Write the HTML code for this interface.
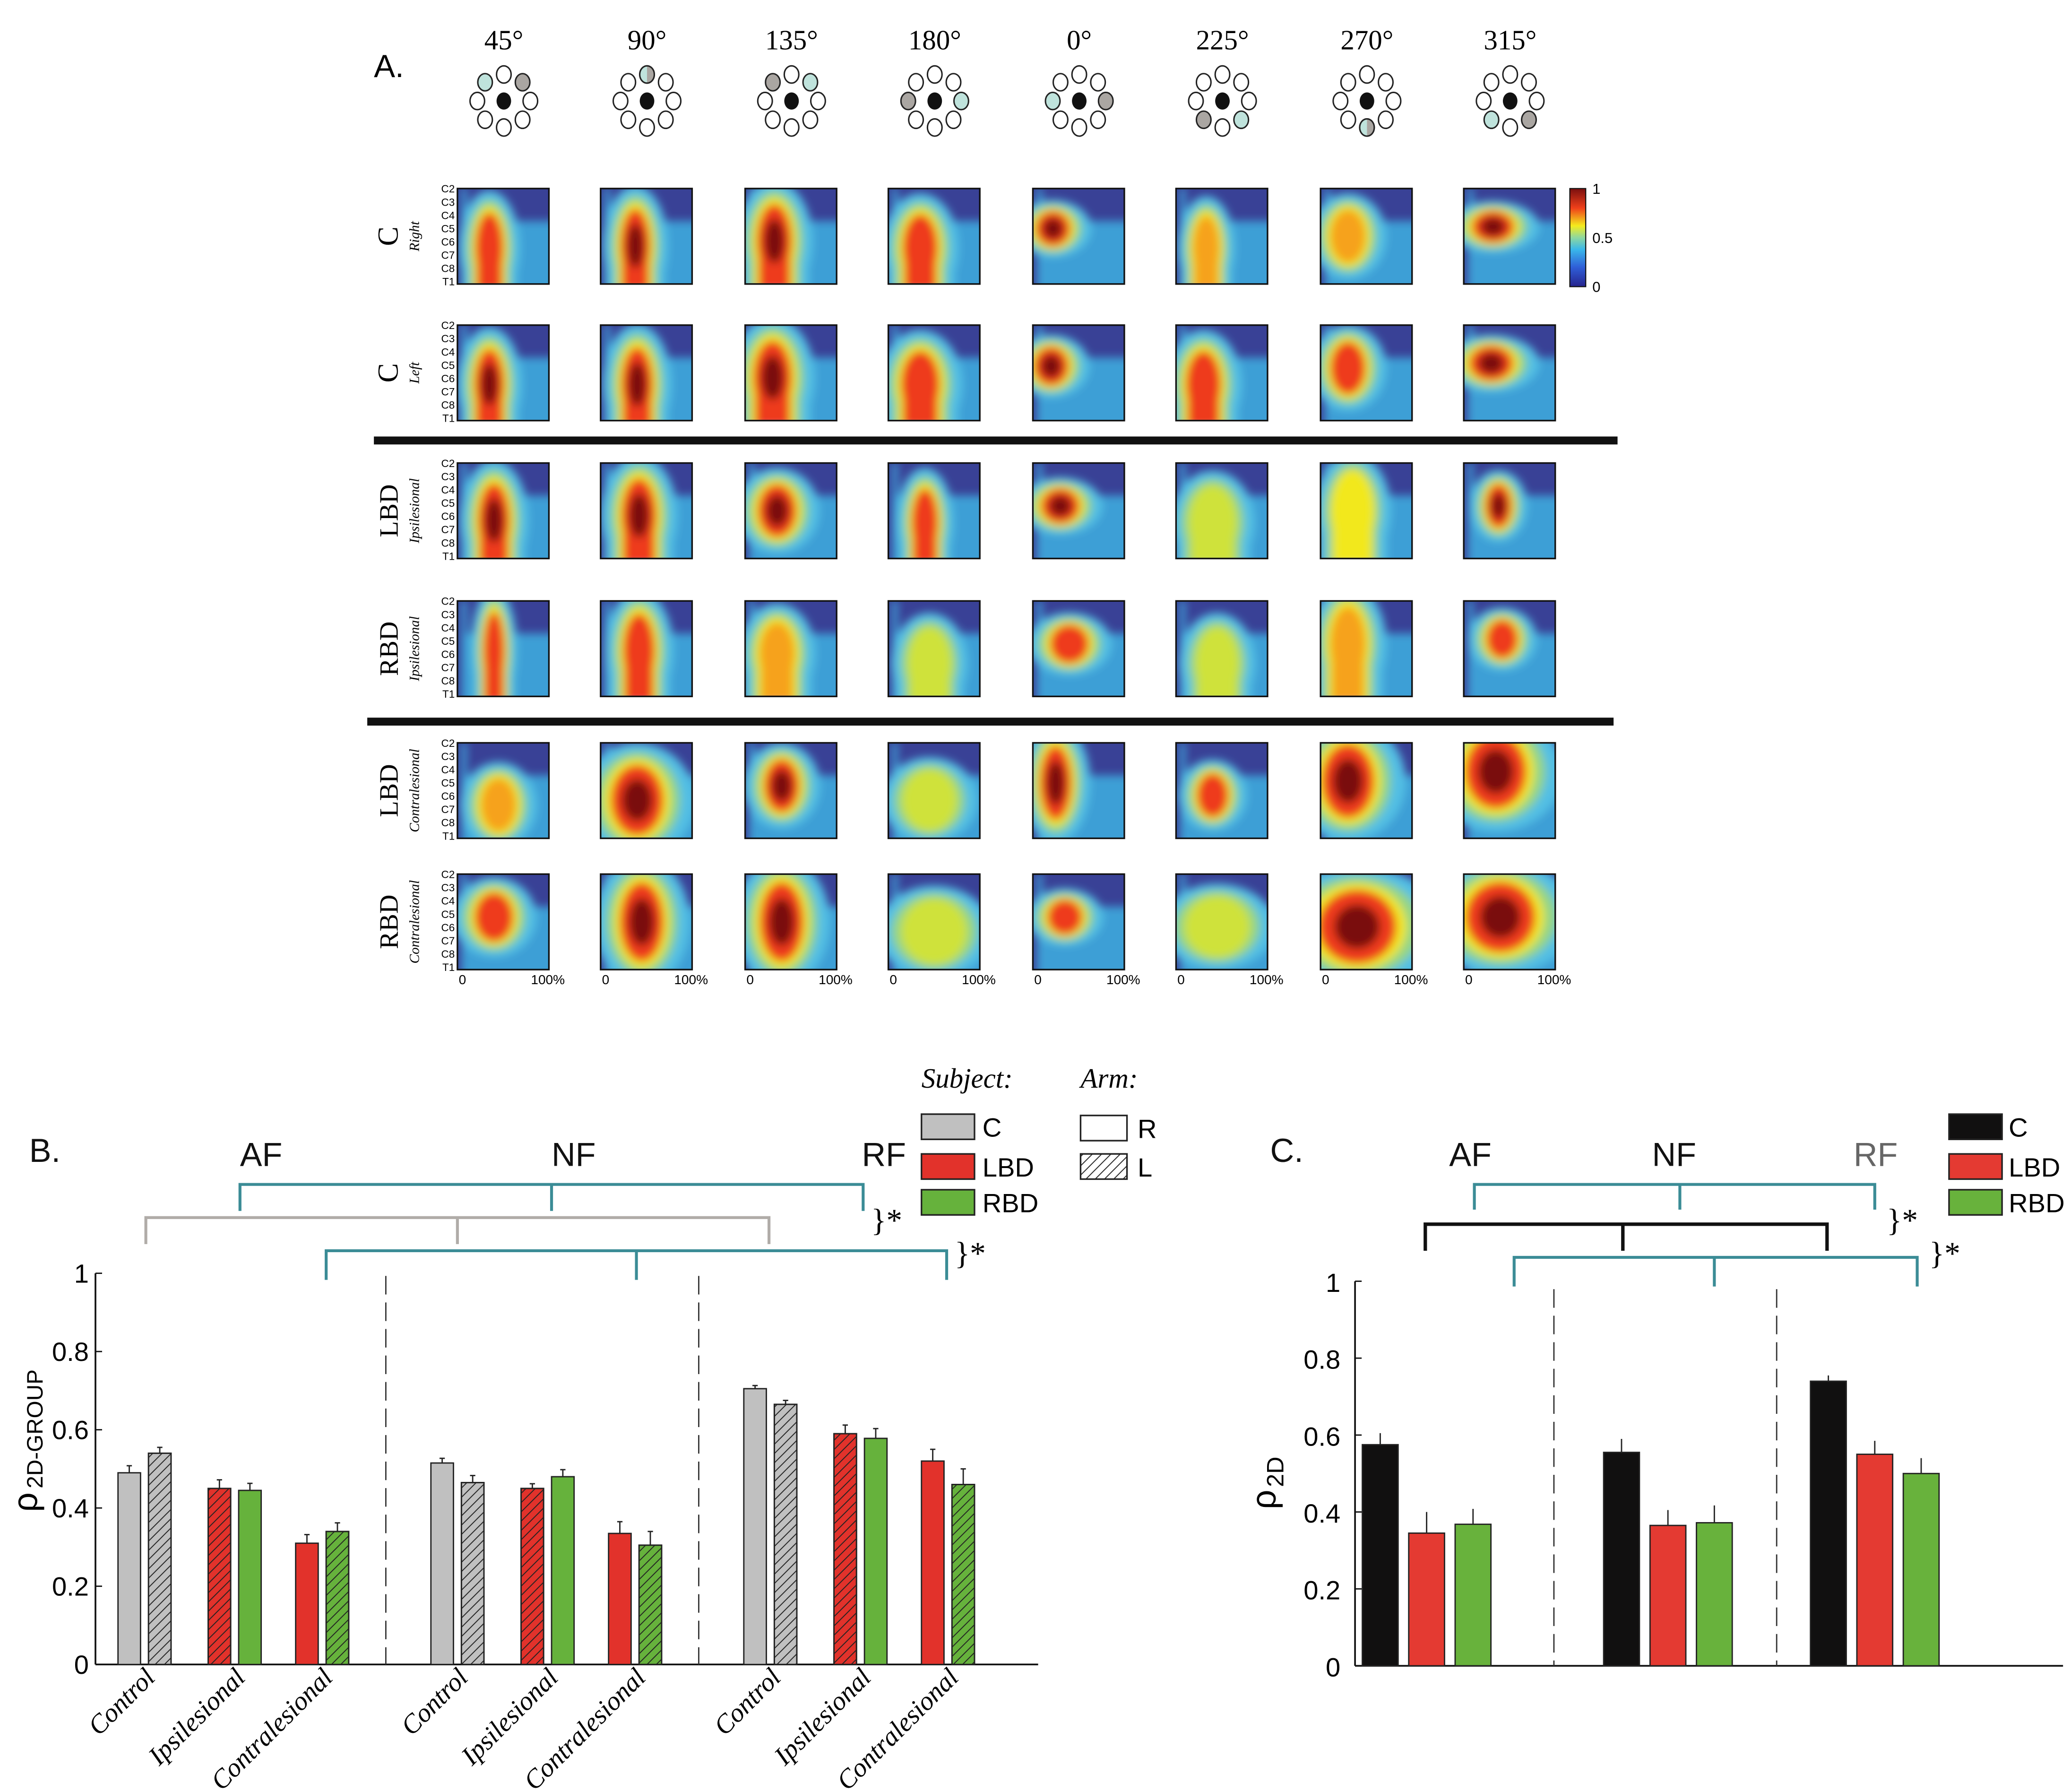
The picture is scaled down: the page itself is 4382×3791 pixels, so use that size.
<!DOCTYPE html>
<html><head><meta charset="utf-8"><style>
html,body{margin:0;padding:0;background:#fff;}
svg{display:block;}
</style></head><body>
<svg id="fig" xmlns="http://www.w3.org/2000/svg" width="4382" height="3791" viewBox="0 0 1562 1351" font-family="Liberation Sans, sans-serif">
<defs>
<pattern id="hatch" patternUnits="userSpaceOnUse" width="7" height="7">
<path d="M-1,8 L8,-1 M-1,1 L1,-1 M6,8 L8,6" stroke="#222" stroke-width="0.7"/>
</pattern>
<filter id="blur" x="-50%" y="-50%" width="200%" height="200%"><feGaussianBlur stdDeviation="3.2"/></filter>
<linearGradient id="cbar" x1="0" y1="1" x2="0" y2="0">
<stop offset="0" stop-color="#26248e"/><stop offset="0.2" stop-color="#2f5fd8"/><stop offset="0.38" stop-color="#3ab8ea"/><stop offset="0.5" stop-color="#8ed8a0"/><stop offset="0.62" stop-color="#f4ec1c"/><stop offset="0.8" stop-color="#f0401a"/><stop offset="1" stop-color="#7a0f0f"/>
</linearGradient>
</defs>
<g id="panelA"></g>
<g id="panelB"></g>
<g id="panelC"></g>
</svg>
<script>
// ---------- Panel A data ----------
const angleLabels = ["45°","90°","135°","180°","0°","225°","270°","315°"];
const dialCyan = [7, 0, 1, 2, 6, 3, 4, 5];
const dialGray = [1, 0, 7, 6, 2, 5, 4, 3];
const rowMain = ["C","C","LBD","RBD","LBD","RBD"];
const rowSub = ["Right","Left","Ipsilesional","Ipsilesional","Contralesional","Contralesional"];
const segLabels = ["C2","C3","C4","C5","C6","C7","C8","T1"];
// blobs per row: [cx, cy, rx, ry, level]
const blobsRow0 = [[0.35,0.62,0.16,0.4,0.85],[0.38,0.6,0.17,0.42,0.95],[0.32,0.55,0.2,0.42,0.95],[0.35,0.62,0.2,0.38,0.8],[0.22,0.42,0.2,0.2,0.9],[0.33,0.62,0.15,0.36,0.72],[0.3,0.5,0.2,0.3,0.62],[0.32,0.4,0.24,0.18,0.9]];
const blobsRow1 = [[0.35,0.62,0.17,0.4,0.9],[0.4,0.62,0.18,0.42,1.0],[0.3,0.55,0.22,0.42,0.95],[0.35,0.62,0.22,0.38,0.85],[0.2,0.43,0.2,0.22,0.95],[0.3,0.62,0.2,0.38,0.8],[0.3,0.45,0.2,0.3,0.8],[0.3,0.4,0.25,0.2,1.0]];
const blobsRow2 = [[0.4,0.6,0.18,0.42,0.95],[0.42,0.55,0.2,0.42,1.0],[0.35,0.5,0.22,0.3,0.9],[0.4,0.62,0.15,0.38,0.8],[0.3,0.45,0.22,0.2,0.95],[0.4,0.62,0.22,0.36,0.55],[0.35,0.5,0.2,0.4,0.6],[0.38,0.45,0.15,0.25,0.95]];
const blobsRow3 = [[0.4,0.52,0.12,0.44,0.85],[0.42,0.52,0.18,0.42,0.85],[0.35,0.55,0.2,0.35,0.72],[0.45,0.65,0.2,0.35,0.55],[0.4,0.45,0.22,0.22,0.78],[0.45,0.65,0.2,0.35,0.5],[0.3,0.45,0.2,0.42,0.62],[0.42,0.4,0.18,0.22,0.85]];
const blobsRow4 = [[0.45,0.65,0.2,0.3,0.62],[0.4,0.6,0.3,0.4,0.95],[0.4,0.45,0.2,0.3,1.0],[0.45,0.6,0.25,0.3,0.5],[0.25,0.42,0.18,0.42,0.9],[0.4,0.55,0.18,0.25,0.85],[0.3,0.4,0.3,0.42,1.0],[0.35,0.3,0.35,0.42,1.0]];
const blobsRow5 = [[0.4,0.45,0.22,0.28,0.85],[0.45,0.5,0.25,0.45,0.95],[0.4,0.5,0.25,0.45,0.9],[0.5,0.6,0.3,0.32,0.45],[0.35,0.45,0.2,0.2,0.8],[0.45,0.55,0.3,0.3,0.5],[0.4,0.55,0.45,0.42,1.0],[0.4,0.45,0.4,0.4,1.0]];
const allBlobs = [blobsRow0,blobsRow1,blobsRow2,blobsRow3,blobsRow4,blobsRow5];

// ---------- Panel B data ----------
const bGroups = ["AF","NF","RF"];
const bCats = ["Control","Ipsilesional","Contralesional"];
const bValsAF = [0.49,0.54,0.45,0.445,0.31,0.34];
const bValsNF = [0.515,0.465,0.45,0.48,0.335,0.305];
const bValsRF = [0.705,0.665,0.59,0.578,0.52,0.46];
const bErrAF = [0.018,0.015,0.022,0.018,0.022,0.022];
const bErrNF = [0.012,0.018,0.012,0.018,0.03,0.035];
const bErrRF = [0.008,0.01,0.022,0.025,0.03,0.04];
const bColors = ["#c0c0c0","#c0c0c0","#e2322b","#66b23c","#e2322b","#66b23c"];
const bHatched = [false,true,true,false,false,true];
const bTicks = [0,0.2,0.4,0.6,0.8,1];
const bTickLabels = ["0","0.2","0.4","0.6","0.8","1"];

// ---------- Panel C data ----------
const cGroups = ["AF","NF","RF"];
const cValsC = [0.575,0.555,0.74];
const cValsLBD = [0.345,0.365,0.55];
const cValsRBD = [0.368,0.372,0.5];
const cErrC = [0.03,0.035,0.015];
const cErrLBD = [0.055,0.04,0.035];
const cErrRBD = [0.04,0.045,0.04];
const cTicks = [0,0.2,0.4,0.6,0.8,1];
const cTickLabels = ["0","0.2","0.4","0.6","0.8","1"];

const NS="http://www.w3.org/2000/svg";
function mk(tag, attrs, parent, txt){const e=document.createElementNS(NS,tag);for(const k in attrs)e.setAttribute(k,attrs[k]);if(txt!==undefined)e.textContent=txt;parent.appendChild(e);return e;}

// ================= PANEL A =================
const A=document.getElementById('panelA');
let t=mk('text',{x:282,y:58,'font-size':24},A,'A.');


const colX=[345,453,562,670,779,887,996,1104];
const rowY=[142,245,349,453,560,659];
const PW=69, PH=72;
const dirs=[[0,-1],[0.7071,-0.7071],[1,0],[0.7071,0.7071],[0,1],[-0.7071,0.7071],[-1,0],[-0.7071,-0.7071]];
for(let c=0;c<8;c++){
  const cx=colX[c]+35;
  let h=mk('text',{x:cx,y:37,'font-size':21,'text-anchor':'middle','font-family':'Liberation Serif, serif'},A,angleLabels[c]);
  
  
  const g=mk('g',{},A);
  
  
  const cy=76;
  for(let p=0;p<8;p++){
    const px=cx+dirs[p][0]*20, py=cy+dirs[p][1]*20;
    let fill='#fff';
    const split=(dialCyan[c]===dialGray[c]&&p===dialCyan[c]);
    if(!split){ if(p===dialCyan[c])fill='#bfe3dc'; if(p===dialGray[c])fill='#aaa6a2'; }
    mk('ellipse',{cx:px,cy:py,rx:5.5,ry:6.5,fill:fill,stroke:'#222','stroke-width':1.1},g);
    if(split){ mk('path',{d:`M${px},${py-6.5} A5.5,6.5 0 0 0 ${px},${py+6.5} Z`,fill:'#bfe3dc'},g); mk('path',{d:`M${px},${py-6.5} A5.5,6.5 0 0 1 ${px},${py+6.5} Z`,fill:'#aaa6a2'},g); mk('ellipse',{cx:px,cy:py,rx:5.5,ry:6.5,fill:'none',stroke:'#222','stroke-width':1.1},g);}
  }
  mk('ellipse',{cx:cx,cy:cy,rx:5.5,ry:6.5,fill:'#111'},g);
}
function layer(parent,bx,by,rx,ry,bottom,fill,tail){
  mk('ellipse',{cx:bx,cy:by,rx:rx,ry:ry,fill:fill},parent);
  if(tail) mk('rect',{x:bx-rx*0.9,y:by,width:rx*1.8,height:Math.max(0,bottom-by+5),fill:fill},parent);
}
for(let r=0;r<6;r++){
  const ly=rowY[r]+PH/2;
  let rl=mk('text',{transform:`translate(300,${ly}) rotate(-90)`,'font-size':r<2?22:20,'text-anchor':'middle','font-family':'Liberation Serif, serif'},A,rowMain[r]);
  
  
  let rs=mk('text',{transform:`translate(316,${ly}) rotate(-90)`,'font-size':10.5,'text-anchor':'middle','font-style':'italic','font-family':'Liberation Serif, serif'},A,rowSub[r]);
  
  
  for(let c=0;c<8;c++){
    const x0=colX[c], y0=rowY[r];
    const g=mk('g',{},A);
    
    
    const cid='clip'+r+'_'+c;
    const cp=mk('clipPath',{id:cid},g); mk('rect',{x:x0,y:y0,width:PW,height:PH},cp);
    const inner=mk('g',{'clip-path':`url(#${cid})`},g);
    mk('rect',{x:x0,y:y0,width:PW,height:PH,fill:'#394196'},inner);
    const b=allBlobs[r][c];
    const bx=x0+b[0]*PW, by=y0+b[1]*PH, rx=b[2]*PW, ry=b[3]*PH, lv=b[4];
    const tail=b[3]>=0.35 && r<4;
    const bottom=y0+PH;
    const gb=mk('g',{filter:'url(#blur)'},inner);
    mk('rect',{x:x0+3,y:y0+PH*0.34,width:PW*1.1,height:PH,fill:'#3c9fd6'},gb);
    mk('rect',{x:x0+3,y:y0,width:4,height:PH,fill:'#3c9fd6'},gb);
    layer(gb,bx,by,rx*2.1,ry*1.5,bottom,'#52bfe4',tail);
    layer(gb,bx,by,rx*1.55,ry*1.25,bottom,'#95d583',tail);
    layer(gb,bx,by,rx*1.2,ry*1.08,bottom,lv>0.55?'#f2e81c':'#cfe23a',tail);
    if(lv>0.6) layer(gb,bx,by,rx*0.95,ry*0.92,bottom,lv>0.75?'#ee3a1c':'#f6a21c',tail);
    if(lv>0.88) mk('ellipse',{cx:bx,cy:by,rx:rx*0.55,ry:ry*0.55,fill:'#7a1010'},gb);
    mk('rect',{x:x0,y:y0,width:PW,height:PH,fill:'none',stroke:'#111','stroke-width':1.2},g);
    if(c===0){
      for(let s=0;s<8;s++){
        let st=mk('text',{x:x0-2,y:y0+3+s*(PH/7.2),'font-size':8,'text-anchor':'end'},g,segLabels[s]);
        
        
      }
    }
    if(r===5){
      let z=mk('text',{x:x0+1,y:y0+PH+11,'font-size':10},g,'0');
      
      
      let f=mk('text',{x:x0+PW+12,y:y0+PH+11,'font-size':10,'text-anchor':'end'},g,'100%');
      
      
    }
  }
}
let s1=mk('rect',{x:282,y:329,width:938,height:6,fill:'#111'},A);


let s2=mk('rect',{x:277,y:541,width:940,height:6,fill:'#111'},A);


let cb=mk('rect',{x:1184,y:142,width:12,height:74,fill:'url(#cbar)',stroke:'#111','stroke-width':0.8},A);


[['1',146],['0.5',183],['0',220]].forEach(([l,y])=>{let e=mk('text',{x:1201,y:y,'font-size':11},A,l);

});

// ================= PANEL B =================
const B=document.getElementById('panelB');
const bY0=1255, bPx=295;
const by=v=>bY0-v*bPx;
const bGroupX=g=>89+g*236;
const subOff=[0,68,134], barOff=[0,23], bW=17;
const bVals=[bValsAF,bValsNF,bValsRF], bErr=[bErrAF,bErrNF,bErrRF];
mk('line',{x1:72,y1:bY0,x2:783,y2:bY0,stroke:'#111','stroke-width':1.3},B);
mk('line',{x1:72,y1:by(1),x2:72,y2:bY0,stroke:'#111','stroke-width':1.3},B);
bTicks.forEach((v,i)=>{mk('line',{x1:72,y1:by(v),x2:77,y2:by(v),stroke:'#111'},B);
let tl=mk('text',{x:67,y:by(v)+7,'font-size':20,'text-anchor':'end'},B,bTickLabels[i]);

});
let byl=mk('text',{transform:`translate(28,1140) rotate(-90)`,'font-size':26},B);


byl.innerHTML='ρ<tspan font-size="17" dx="3" dy="4">2D-GROUP</tspan>';
[291,527].forEach(x=>{mk('line',{x1:x,y1:962,x2:x,y2:bY0,stroke:'#333','stroke-width':1,'stroke-dasharray':'14,6'},B);});
for(let g=0;g<3;g++){
  for(let i=0;i<6;i++){
    const x=bGroupX(g)+subOff[Math.floor(i/2)]+barOff[i%2];
    const v=bVals[g][i], e=bErr[g][i];
    mk('line',{x1:x+bW/2,y1:by(v),x2:x+bW/2,y2:by(v+e),stroke:'#222','stroke-width':1},B);
    mk('line',{x1:x+bW/2-2,y1:by(v+e),x2:x+bW/2+2,y2:by(v+e),stroke:'#222','stroke-width':1},B);
    let r=mk('rect',{x:x,y:by(v),width:bW,height:bY0-by(v),fill:bColors[i],stroke:'#222','stroke-width':1},B);
    
    
    if(bHatched[i]) mk('rect',{x:x,y:by(v),width:bW,height:bY0-by(v),fill:'url(#hatch)',stroke:'#222','stroke-width':1},B);
  }
  for(let k=0;k<3;k++){
    const cx=bGroupX(g)+subOff[k]+29;
    let cl=mk('text',{transform:`translate(${cx},1266) rotate(-45)`,'font-size':20,'text-anchor':'end','font-style':'italic','font-family':'Liberation Serif, serif'},B,bCats[k]);
    
    
  }
}
function bracket(P,x1,xm,x2,yh,yt,color,name,w){const g=mk('path',{d:`M${x1},${yt} V${yh} H${x2} V${yt} M${xm},${yh} V${yt}`,fill:'none',stroke:color,'stroke-width':w||2.2},P);}
bracket(B,181,416,651,893,913,'#3b8c96','b-bracket-arm');
bracket(B,110,345,580,918,938,'#b0aca8','b-bracket-control');
bracket(B,246,480,714,943,965,'#3b8c96','b-bracket-patient');
[['}*',657,928],['}*',720,953]].forEach(([s,x,y])=>{let e=mk('text',{x:x,y:y,'font-size':24,'font-family':'Liberation Serif, serif'},B,s);});
[['B.',22,876,'#111'],['AF',181,879,'#111'],['NF',416,879,'#111'],['RF',650,879,'#111']].forEach(([s,x,y,c])=>{let e=mk('text',{x:x,y:y,'font-size':25,fill:c},B,s);});
let sj=mk('text',{x:695,y:820,'font-size':21,'font-style':'italic','font-family':'Liberation Serif, serif'},B,'Subject:');


let am=mk('text',{x:815,y:820,'font-size':21,'font-style':'italic','font-family':'Liberation Serif, serif'},B,'Arm:');


[['C','#c0c0c0',840],['LBD','#e2322b',870],['RBD','#66b23c',897]].forEach(([l,c,y])=>{mk('rect',{x:695,y:y,width:40,height:19,fill:c,stroke:'#222','stroke-width':1.2},B);
let e=mk('text',{x:741,y:y+17,'font-size':20},B,l);});
mk('rect',{x:815,y:841,width:35,height:19,fill:'#fff',stroke:'#222','stroke-width':1.2},B);
mk('rect',{x:815,y:870,width:35,height:19,fill:'url(#hatch)',stroke:'#222','stroke-width':1.2},B);
[['R',858],['L',887]].forEach(([l,y])=>{let e=mk('text',{x:858,y:y,'font-size':20},B,l);});

// ================= PANEL C =================
const C=document.getElementById('panelC');
const cY0=1256, cPx=290;
const cy=v=>cY0-v*cPx;
const cCenters=[1076,1258,1414];
const cW=27, cSep=35;
mk('line',{x1:1022,y1:cY0,x2:1556,y2:cY0,stroke:'#111','stroke-width':1.3},C);
mk('line',{x1:1022,y1:cy(1),x2:1022,y2:cY0,stroke:'#111','stroke-width':1.3},C);
cTicks.forEach((v,i)=>{mk('line',{x1:1022,y1:cy(v),x2:1027,y2:cy(v),stroke:'#111'},C);
let tl=mk('text',{x:1011,y:cy(v)+8,'font-size':20,'text-anchor':'end'},C,cTickLabels[i]);

});
let cyl=mk('text',{transform:`translate(962,1138) rotate(-90)`,'font-size':26},C);


cyl.innerHTML='ρ<tspan font-size="18" dx="2" dy="6">2D</tspan>';
[1172,1340].forEach(x=>{mk('line',{x1:x,y1:972,x2:x,y2:cY0,stroke:'#333','stroke-width':1,'stroke-dasharray':'14,6'},C);});
const cSeries=[[cValsC,cErrC,'#111010','C'],[cValsLBD,cErrLBD,'#e43a32','LBD'],[cValsRBD,cErrRBD,'#68b23c','RBD']];
for(let g=0;g<3;g++){
  cSeries.forEach(([vals,errs,col,nm],s)=>{
    const x=cCenters[g]+(s-1)*cSep-cW/2, v=vals[g], e=errs[g];
    mk('line',{x1:x+cW/2,y1:cy(v),x2:x+cW/2,y2:cy(v+e),stroke:'#222','stroke-width':1},C);
    let r=mk('rect',{x:x,y:cy(v),width:cW,height:cY0-cy(v),fill:col,stroke:'#222','stroke-width':1},C);
    
    
  });
}
bracket(C,1112,1267,1414,893,912,'#3b8c96','c-bracket-top');
bracket(C,1075,1224,1378,923,943,'#111','c-bracket-control',2.6);
bracket(C,1142,1293,1446,948,970,'#3b8c96','c-bracket-bottom');
[['}*',1423,928],['}*',1455,953]].forEach(([s,x,y])=>{let e=mk('text',{x:x,y:y,'font-size':24,'font-family':'Liberation Serif, serif'},C,s);});
[['C.',958,876,'#111'],['AF',1093,879,'#111'],['NF',1246,879,'#111'],['RF',1398,879,'#666']].forEach(([s,x,y,c])=>{let e=mk('text',{x:x,y:y,'font-size':25,fill:c},C,s);});
[['C','#111010',840],['LBD','#e43a32',870],['RBD','#68b23c',897]].forEach(([l,c,y])=>{mk('rect',{x:1470,y:y,width:40,height:19,fill:c,stroke:'#222','stroke-width':1.2},C);
let e=mk('text',{x:1515,y:y+17,'font-size':20},C,l);});
</script>
</body></html>
